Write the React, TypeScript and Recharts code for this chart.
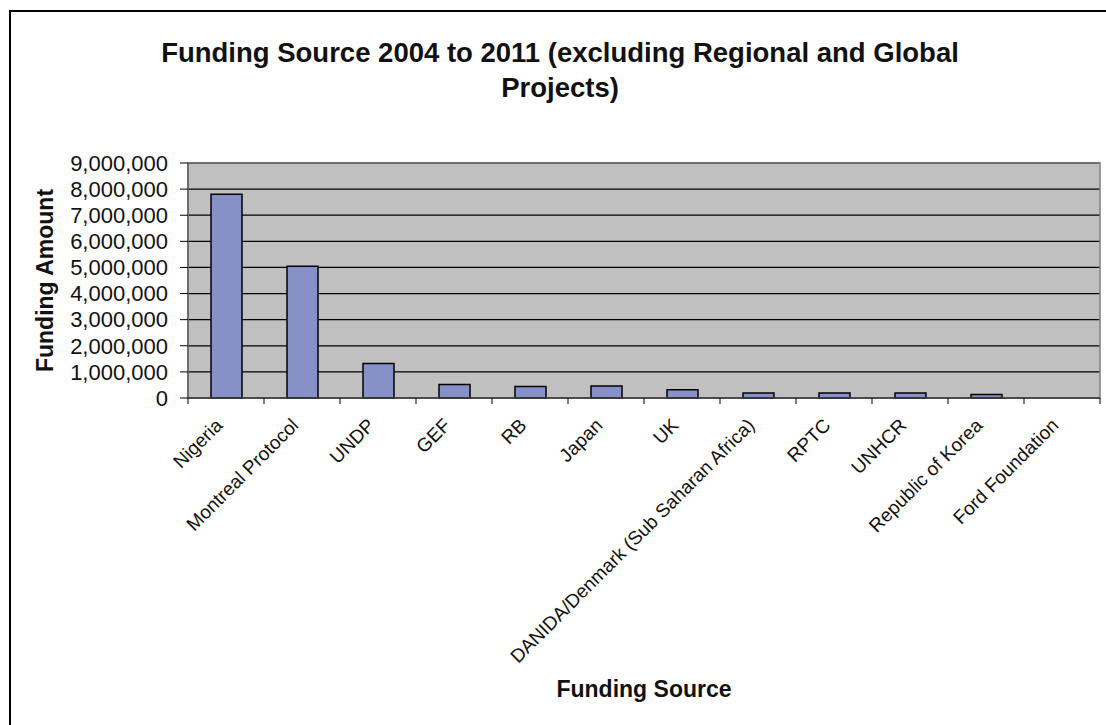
import React from "react"
import { BarChart, Bar, XAxis, YAxis, CartesianGrid, ReferenceArea } from "recharts"

const sources = [
  "Nigeria",
  "Montreal Protocol",
  "UNDP",
  "GEF",
  "RB",
  "Japan",
  "UK",
  "DANIDA/Denmark (Sub Saharan Africa)",
  "RPTC",
  "UNHCR",
  "Republic of Korea",
  "Ford Foundation",
]
const amounts = [7800000, 5050000, 1320000, 520000, 440000, 460000, 320000, 190000, 190000, 190000, 130000, 0]
const amountTicks = [0, 1000000, 2000000, 3000000, 4000000, 5000000, 6000000, 7000000, 8000000, 9000000]
const titleLines = ["Funding Source 2004 to 2011 (excluding Regional and Global", "Projects)"]

const data = sources.map((source, i) => ({ source, amount: amounts[i] }))

const FONT = "Arial, 'Liberation Sans', sans-serif"

function SourceTick(props: any) {
  const { x, y, payload, index, visibleTicksCount, width } = props
  const half = payload.offset ?? width / (2 * sources.length)
  const tx = x - 12
  const ty = y + 19
  return (
    <g>
      <line x1={x - half} x2={x - half} y1={y} y2={y + 6} stroke="#000" />
      {index === visibleTicksCount - 1 && (
        <line x1={x + half} x2={x + half} y1={y} y2={y + 6} stroke="#000" />
      )}
      <text
        x={tx}
        y={ty}
        transform={`rotate(-45, ${tx}, ${ty})`}
        textAnchor="end"
        dominantBaseline="hanging"
        fontSize={19}
        fontFamily={FONT}
        fill="#111"
      >
        {payload.value}
      </text>
    </g>
  )
}

function AmountLabel(props: any) {
  const { viewBox } = props
  const x = viewBox.x + 15
  const y = viewBox.y + viewBox.height / 2
  return (
    <text
      x={x}
      y={y}
      transform={`rotate(-90, ${x}, ${y})`}
      textAnchor="middle"
      dominantBaseline="central"
      fontSize={23}
      fontWeight="bold"
      fontFamily={FONT}
      fill="#111"
    >
      Funding Amount
    </text>
  )
}

export default function App() {
  return (
    <div style={{ position: "absolute", left: 0, top: 0, width: 1106, height: 725, overflow: "hidden", background: "#fff", fontFamily: FONT }}>
      <div style={{ position: "absolute", left: 9, top: 10, width: 1120, height: 740, border: "2px solid #000" }} />
      {titleLines.map((line, i) => (
        <div
          key={i}
          style={{
            position: "absolute",
            left: 0,
            width: 1120,
            top: 39 + i * 35,
            textAlign: "center",
            fontSize: 27.5,
            lineHeight: "27px",
            fontWeight: "bold",
            color: "#111",
            whiteSpace: "nowrap",
          }}
        >
          {line}
        </div>
      ))}
      <div style={{ position: "absolute", left: 0, top: 0 }}>
        <BarChart
          width={1106}
          height={725}
          data={data}
          margin={{ top: 163, right: 6, bottom: 17, left: 30 }}
        >
          <CartesianGrid vertical={false} stroke="#000" strokeWidth={1.3} fill="#C0C0C0" fillOpacity={1} />
          <ReferenceArea y1={0} y2={9000000} fill="none" stroke="#808080" strokeWidth={1.5} />
          <XAxis
            dataKey="source"
            interval={0}
            height={310}
            tickSize={0}
            tickMargin={0}
            tick={<SourceTick />}
            axisLine={{ stroke: "#404040", strokeWidth: 1.5 }}
            label={{
              value: "Funding Source",
              position: "insideBottom",
              offset: 11,
              fontSize: 23,
              fontWeight: "bold",
              fill: "#111",
              fontFamily: FONT,
            }}
          />
          <YAxis
            width={158}
            domain={[0, 9000000]}
            ticks={amountTicks}
            interval={0}
            tickSize={8}
            tickMargin={12}
            tickFormatter={(v: number) => v.toLocaleString("en-US")}
            tick={{ fontSize: 22, fill: "#111", fontFamily: FONT }}
            tickLine={{ stroke: "#000" }}
            axisLine={{ stroke: "#606060", strokeWidth: 1.5 }}
            label={<AmountLabel />}
          />
          <Bar
            dataKey="amount"
            fill="#8890C8"
            stroke="#000"
            strokeWidth={1.5}
            barSize={31}
            isAnimationActive={false}
          />
        </BarChart>
      </div>
    </div>
  )
}
